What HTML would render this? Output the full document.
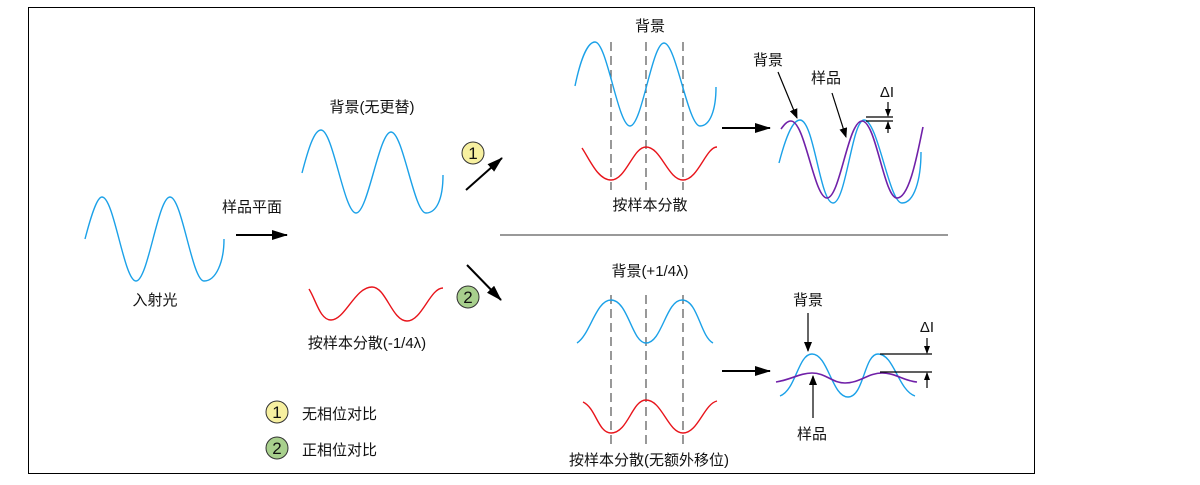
<!DOCTYPE html>
<html><head><meta charset="utf-8"><style>
html,body{margin:0;padding:0;background:#fff;}
svg{display:block;}
text{font-family:"Liberation Sans","Noto Sans CJK SC",sans-serif;font-size:15px;fill:#111;}
.n{font-size:17px;}
.b{fill:none;stroke:#1ba1e8;stroke-width:1.4;}
.r{fill:none;stroke:#e8141b;stroke-width:1.4;}
.p{fill:none;stroke:#7020a8;stroke-width:1.6;}
.d{stroke:#555;stroke-width:1.2;stroke-dasharray:9,5;}
.k{stroke:#000;stroke-width:1.2;}
</style></head><body>
<svg width="1200" height="485" viewBox="0 0 1200 485" xmlns="http://www.w3.org/2000/svg">
<defs>
<marker id="ah" markerWidth="10" markerHeight="8" refX="9" refY="4" orient="auto" markerUnits="userSpaceOnUse"><path d="M0,0 L10,4 L0,8 z" fill="#000"/></marker>
<marker id="as" markerWidth="8" markerHeight="8" refX="7" refY="4" orient="auto" markerUnits="userSpaceOnUse"><path d="M0,1 L8,4 L0,7 z" fill="#000"/></marker>
<marker id="big" markerWidth="16" markerHeight="10" refX="15" refY="5" orient="auto" markerUnits="userSpaceOnUse"><path d="M0,0 L16,5 L0,10 z" fill="#000"/></marker>
</defs>
<rect x="28.5" y="7.5" width="1006" height="466" fill="none" stroke="#000" stroke-width="1"/>

<path class="b" d="M85,239 C91,216 97,197 102,197 C114,197 124,281 136,281 C148,281 158,197 170,197 C182,197 192,281 204,281 C216,281 224,262 224,239"/>
<text x="155" y="305" text-anchor="middle">入射光</text>
<text x="252" y="212" text-anchor="middle">样品平面</text>
<line x1="236" y1="235" x2="287" y2="235" stroke="#000" stroke-width="2" marker-end="url(#big)"/>

<path class="b" d="M302,173 C308,150 314,130 321,130 C333,130 344,213 356,213 C368,213 379,132 391,132 C403,132 414,213 426,213 C436,213 443,200 443,175"/>
<text x="372" y="112" text-anchor="middle">背景(无更替)</text>
<path class="r" d="M309,289 C316,300 320,320 331,320 C345,320 355,287 372,287 C386,287 392,321 407,321 C422,321 430,288 443,288"/>
<text x="367" y="348" text-anchor="middle">按样本分散(-1/4λ)</text>

<circle cx="473" cy="153" r="11" fill="#f7f0a0" stroke="#333" stroke-width="1"/>
<text class="n" x="473" y="159" text-anchor="middle">1</text>
<line x1="466" y1="190" x2="502" y2="158" stroke="#000" stroke-width="2" marker-end="url(#big)"/>
<circle cx="468" cy="297" r="11" fill="#a8d08d" stroke="#333" stroke-width="1"/>
<text class="n" x="468" y="303" text-anchor="middle">2</text>
<line x1="467" y1="265" x2="501" y2="300" stroke="#000" stroke-width="2" marker-end="url(#big)"/>
<line x1="500" y1="235" x2="948" y2="235" stroke="#333" stroke-width="1"/>

<circle cx="277" cy="412" r="11" fill="#f7f0a0" stroke="#333" stroke-width="1"/>
<text class="n" x="277" y="418" text-anchor="middle">1</text>
<text x="302" y="419">无相位对比</text>
<circle cx="277" cy="448" r="11" fill="#a8d08d" stroke="#333" stroke-width="1"/>
<text class="n" x="277" y="454" text-anchor="middle">2</text>
<text x="302" y="455">正相位对比</text>

<text x="650" y="31" text-anchor="middle">背景</text>
<line class="d" x1="611" y1="42" x2="611" y2="190"/>
<line class="d" x1="646" y1="42" x2="646" y2="190"/>
<line class="d" x1="683" y1="42" x2="683" y2="190"/>
<path class="b" d="M575,86 C580,62 587,42 595,42 C607,42 618,126 630,126 C642,126 652,43 664,43 C676,43 688,126 700,126 C710,126 716,110 716,87"/>
<path class="r" d="M582,148 C590,160 598,180 611,180 C626,180 633,147 646,147 C661,147 668,180 683,180 C698,180 706,147 717,147"/>
<text x="650" y="210" text-anchor="middle">按样本分散</text>
<line x1="722" y1="128" x2="770" y2="128" stroke="#000" stroke-width="2" marker-end="url(#big)"/>

<path class="b" d="M779,163 C785,140 792,120 800,120 C814,120 820,203 833,203 C846,203 852,120 864,120 C878,120 889,203 902,203 C914,203 921,180 921,152"/>
<path class="p" d="M781,129 C784,125 787,121 791,121 C805,121 814,198 827,198 C840,198 848,121 862,121 C876,121 884,198 897,198 C910,198 918,150 923,127"/>
<text x="768" y="65" text-anchor="middle">背景</text>
<line class="k" x1="778" y1="72" x2="797" y2="118" marker-end="url(#ah)"/>
<text x="826" y="83" text-anchor="middle">样品</text>
<line class="k" x1="832" y1="93" x2="846" y2="137" marker-end="url(#ah)"/>
<text x="887" y="97" text-anchor="middle">ΔI</text>
<line class="k" x1="866" y1="117" x2="893" y2="117"/>
<line class="k" x1="866" y1="121" x2="893" y2="121"/>
<line class="k" x1="888" y1="102" x2="888" y2="116" marker-end="url(#as)"/>
<line class="k" x1="888" y1="133" x2="888" y2="122" marker-end="url(#as)"/>

<text x="650" y="276" text-anchor="middle">背景(+1/4λ)</text>
<line class="d" x1="611" y1="295" x2="611" y2="445"/>
<line class="d" x1="646" y1="295" x2="646" y2="445"/>
<line class="d" x1="683" y1="295" x2="683" y2="445"/>
<path class="b" d="M577,343 C590,335 596,300 611,300 C628,300 632,343 646,343 C662,343 666,300 682,300 C698,300 700,336 713,343"/>
<path class="r" d="M583,402 C596,408 598,433 611,433 C628,433 632,400 646,400 C662,400 668,433 683,433 C698,433 704,404 717,401"/>
<text x="649" y="465" text-anchor="middle">按样本分散(无额外移位)</text>
<line x1="722" y1="371" x2="770" y2="371" stroke="#000" stroke-width="2" marker-end="url(#big)"/>

<path class="b" d="M780,396 C796,390 798,354 812,354 C828,354 832,397 848,397 C864,397 864,354 878,354 C894,354 898,390 915,396"/>
<path class="p" d="M776,382 C790,380 800,373 812,373 C826,373 832,383 845,383 C860,383 868,373 882,373 C896,373 904,381 917,382"/>
<text x="808" y="305" text-anchor="middle">背景</text>
<line class="k" x1="808" y1="313" x2="808" y2="351" marker-end="url(#ah)"/>
<text x="812" y="439" text-anchor="middle">样品</text>
<line class="k" x1="813" y1="418" x2="813" y2="376" marker-end="url(#ah)"/>
<text x="927" y="332" text-anchor="middle">ΔI</text>
<line class="k" x1="880" y1="354" x2="932" y2="354"/>
<line class="k" x1="880" y1="372" x2="932" y2="372"/>
<line class="k" x1="927" y1="338" x2="927" y2="353" marker-end="url(#as)"/>
<line class="k" x1="927" y1="388" x2="927" y2="373" marker-end="url(#as)"/>
</svg>
</body></html>
